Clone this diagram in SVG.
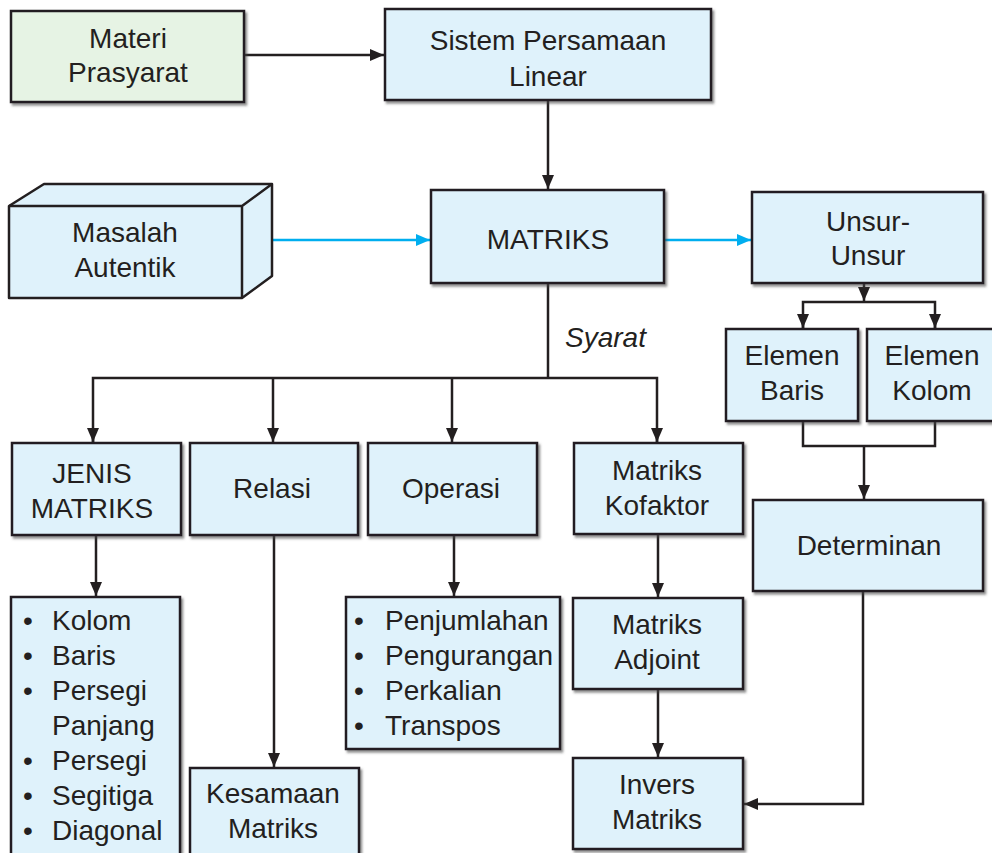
<svg xmlns="http://www.w3.org/2000/svg" width="992" height="853" viewBox="0 0 992 853">
<style>
.box{fill:#dff2fb;stroke:#231f20;stroke-width:2.5;filter:url(#sh)}
.green{fill:#e6f3e4}
.t{font-family:"Liberation Sans",Arial,sans-serif;font-size:28px;fill:#231f20;text-anchor:middle}
.l{font-family:"Liberation Sans",Arial,sans-serif;font-size:28px;fill:#231f20}
.c{fill:none;stroke:#231f20;stroke-width:2.5}
.b{fill:none;stroke:#00aeef;stroke-width:2.5}
</style>
<defs>
<filter id="sh" x="-10%" y="-10%" width="120%" height="130%">
<feDropShadow dx="2" dy="2.5" stdDeviation="1.2" flood-color="#444" flood-opacity="0.6"/>
</filter>
<marker id="ah" markerUnits="userSpaceOnUse" markerWidth="14" markerHeight="12" refX="14" refY="6" orient="auto">
<path d="M0,0 L14,6 L0,12 z" fill="#231f20"/>
</marker>
<marker id="ab" markerUnits="userSpaceOnUse" markerWidth="14" markerHeight="12" refX="14" refY="6" orient="auto">
<path d="M0,0 L14,6 L0,12 z" fill="#00aeef"/>
</marker>
</defs>
<rect width="992" height="853" fill="#ffffff"/>
<g id="connectors">
<path class="c" d="M244,55 H384" marker-end="url(#ah)"/>
<path class="c" d="M548,100 V189" marker-end="url(#ah)"/>
<path class="b" d="M272,240 H430" marker-end="url(#ab)"/>
<path class="b" d="M664,240 H751" marker-end="url(#ab)"/>
<path class="c" d="M864,283 V301" marker-end="url(#ah)"/>
<path class="c" d="M803,329 V302 H935 V329"/>
<path class="c" d="M803,315 V328" marker-end="url(#ah)"/>
<path class="c" d="M935,315 V328" marker-end="url(#ah)"/>
<path class="c" d="M803,421 V446 H935 V421"/>
<path class="c" d="M864,446 V499" marker-end="url(#ah)"/>
<path class="c" d="M548,283 V378"/>
<path class="c" d="M93,442 V378 H657 V442"/>
<path class="c" d="M93,430 V442" marker-end="url(#ah)"/>
<path class="c" d="M273,378 V442" marker-end="url(#ah)"/>
<path class="c" d="M452,378 V442" marker-end="url(#ah)"/>
<path class="c" d="M657,430 V442" marker-end="url(#ah)"/>
<path class="c" d="M96,535 V596" marker-end="url(#ah)"/>
<path class="c" d="M274,535 V767" marker-end="url(#ah)"/>
<path class="c" d="M454,535 V596" marker-end="url(#ah)"/>
<path class="c" d="M658,534 V597" marker-end="url(#ah)"/>
<path class="c" d="M658,689 V757" marker-end="url(#ah)"/>
<path class="c" d="M863,591 V804 H744" marker-end="url(#ah)"/>
<text x="565" y="347" class="l" font-style="italic">Syarat</text>
</g>
<g id="materi">
<rect class="box green" x="11" y="11" width="233" height="91"/>
<text class="t" x="128" y="48">Materi</text>
<text class="t" x="128" y="82">Prasyarat</text>
</g>
<g id="spl">
<rect class="box" x="385" y="9" width="326" height="91"/>
<text class="t" x="548" y="50">Sistem Persamaan</text>
<text class="t" x="548" y="86">Linear</text>
</g>
<g id="masalah">
<path d="M9,206 L44,184 L272,184 L272,276 L242,298 L9,298 Z" fill="#dff2fb" stroke="#231f20" stroke-width="2.5" stroke-linejoin="round"/>
<path d="M9,206 H242 V298 M242,206 L272,184" fill="none" stroke="#231f20" stroke-width="2.5"/>
<text class="t" x="125" y="242">Masalah</text>
<text class="t" x="125" y="277">Autentik</text>
</g>
<g id="matriks">
<rect class="box" x="431" y="190" width="233" height="93"/>
<text class="t" x="548" y="249">MATRIKS</text>
</g>
<g id="unsur">
<rect class="box" x="752" y="192" width="231" height="91"/>
<text class="t" x="868" y="231">Unsur-</text>
<text class="t" x="868" y="265">Unsur</text>
</g>
<g id="elemen-baris">
<rect class="box" x="726" y="329" width="132" height="92"/>
<text class="t" x="792" y="365">Elemen</text>
<text class="t" x="792" y="400">Baris</text>
</g>
<g id="elemen-kolom">
<rect class="box" x="867" y="329" width="132" height="92"/>
<text class="t" x="932" y="365">Elemen</text>
<text class="t" x="932" y="400">Kolom</text>
</g>
<g id="determinan">
<rect class="box" x="753" y="500" width="230" height="91"/>
<text class="t" x="869" y="555">Determinan</text>
</g>
<g id="jenis">
<rect class="box" x="12" y="443" width="169" height="92"/>
<text class="t" x="92" y="483">JENIS</text>
<text class="t" x="92" y="518">MATRIKS</text>
</g>
<g id="relasi">
<rect class="box" x="190" y="443" width="168" height="92"/>
<text class="t" x="272" y="498">Relasi</text>
</g>
<g id="operasi">
<rect class="box" x="368" y="443" width="169" height="92"/>
<text class="t" x="451" y="498">Operasi</text>
</g>
<g id="kofaktor">
<rect class="box" x="574" y="443" width="169" height="91"/>
<text class="t" x="657" y="480">Matriks</text>
<text class="t" x="657" y="515">Kofaktor</text>
</g>
<g id="jenis-list">
<rect class="box" x="11" y="597" width="169" height="280"/>
<text class="l" x="23" y="630">•</text><text class="l" x="52" y="630">Kolom</text>
<text class="l" x="23" y="665">•</text><text class="l" x="52" y="665">Baris</text>
<text class="l" x="23" y="700">•</text><text class="l" x="52" y="700">Persegi</text>
<text class="l" x="52" y="735">Panjang</text>
<text class="l" x="23" y="770">•</text><text class="l" x="52" y="770">Persegi</text>
<text class="l" x="23" y="805">•</text><text class="l" x="52" y="805">Segitiga</text>
<text class="l" x="23" y="840">•</text><text class="l" x="52" y="840">Diagonal</text>
</g>
<g id="kesamaan">
<rect class="box" x="190" y="768" width="169" height="110"/>
<text class="t" x="273" y="803">Kesamaan</text>
<text class="t" x="273" y="838">Matriks</text>
</g>
<g id="operasi-list">
<rect class="box" x="346" y="597" width="214" height="152"/>
<text class="l" x="354" y="630">•</text><text class="l" x="385" y="630">Penjumlahan</text>
<text class="l" x="354" y="665">•</text><text class="l" x="385" y="665">Pengurangan</text>
<text class="l" x="354" y="700">•</text><text class="l" x="385" y="700">Perkalian</text>
<text class="l" x="354" y="735">•</text><text class="l" x="385" y="735">Transpos</text>
</g>
<g id="adjoint">
<rect class="box" x="573" y="598" width="170" height="91"/>
<text class="t" x="657" y="634">Matriks</text>
<text class="t" x="657" y="669">Adjoint</text>
</g>
<g id="invers">
<rect class="box" x="573" y="758" width="170" height="91"/>
<text class="t" x="657" y="794">Invers</text>
<text class="t" x="657" y="829">Matriks</text>
</g>
</svg>
